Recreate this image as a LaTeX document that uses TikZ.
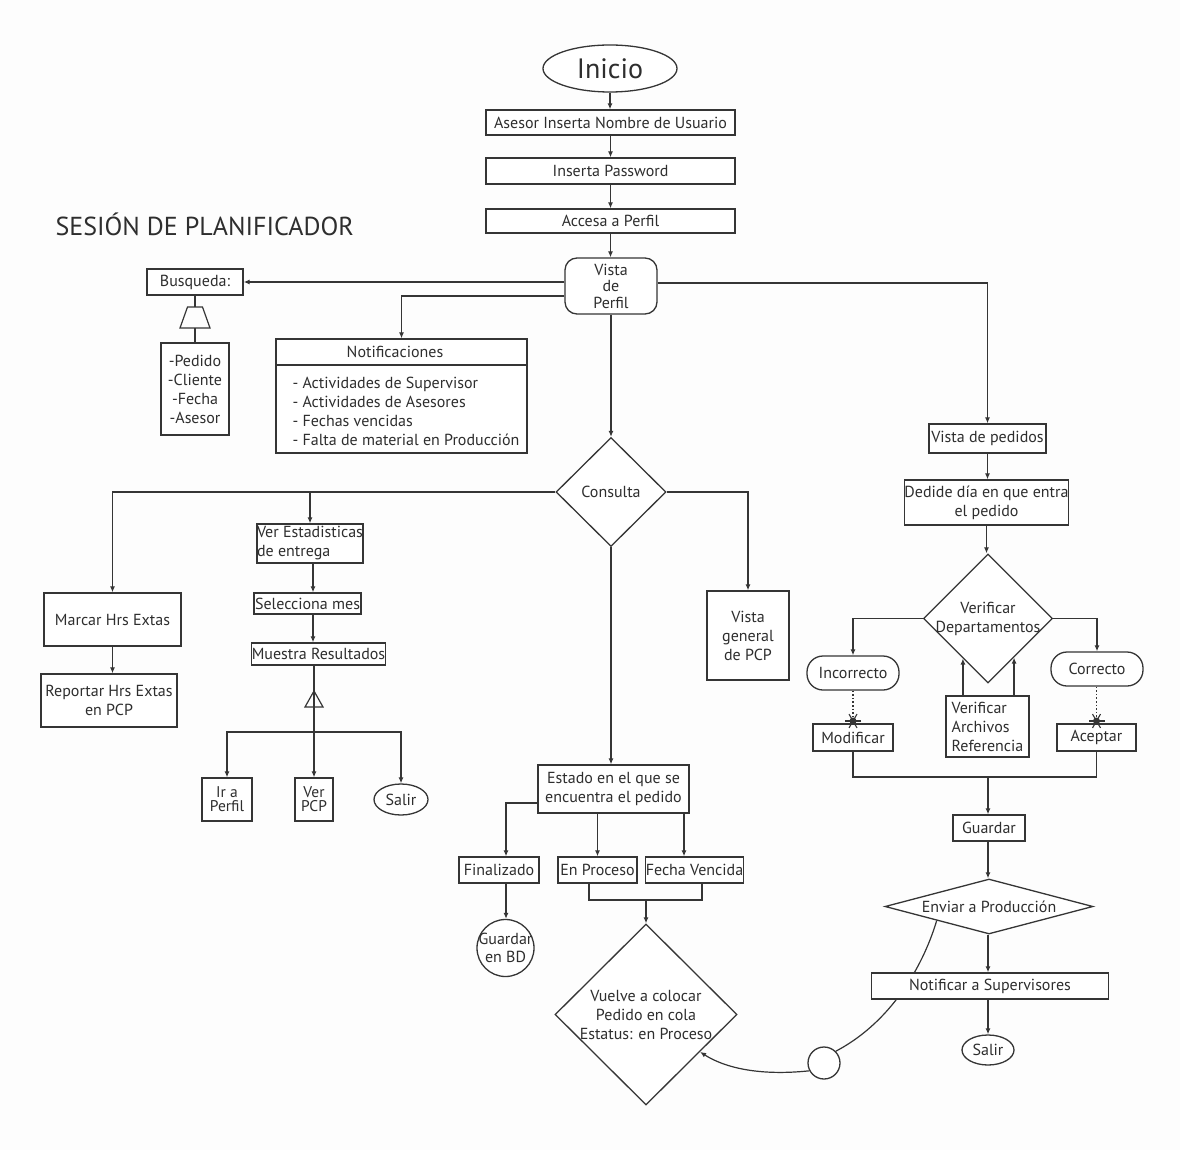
\documentclass[tikz,border=0pt]{standalone}
\usepackage{fontspec}
\setmainfont{PT Sans}
\usetikzlibrary{shapes.geometric,arrows.meta,calc,backgrounds}
\definecolor{ink}{HTML}{353535}
\definecolor{txt}{HTML}{2E2E2E}
\definecolor{paper}{HTML}{FDFDFD}
\newcommand\bodytxt{\fontsize{16}{19}\selectfont}
\tikzset{
  every node/.style={font=\bodytxt, text=txt},
  box/.style={draw=ink, line width=1.3pt, fill=white, inner xsep=1pt, inner ysep=0pt, align=center},
  pill/.style={box, rounded corners=16pt},
  oval/.style={draw=ink, line width=1.3pt, fill=white, ellipse, inner sep=0pt, align=center},
  decision/.style={draw=ink, line width=1.3pt, fill=white, diamond, inner sep=0pt, align=center},
  link/.style={draw=ink, line width=1.2pt, -{Latex[length=6pt,width=5pt]}},
  wire/.style={draw=ink, line width=1.2pt},
  burst/.style={draw=ink, line width=1.1pt},
}
\begin{document}
\begin{tikzpicture}[x=1pt,y=-1pt]
\begin{scope}[on background layer]
  \fill[paper] (0,0) rectangle (1180,1150);
\end{scope}
\useasboundingbox (0,0) rectangle (1180,1150);

% heading
\node[anchor=west, font=\fontsize{26}{30}\selectfont] (title) at (52,224) {SESIÓN DE PLANIFICADOR};

% login sequence
\node[oval, minimum width=134, minimum height=47, font=\fontsize{28}{30}\selectfont] (inicio) at (610,68.5) {Inicio};
\node[box, minimum width=249, minimum height=25] (user) at (610.5,122.5) {Asesor Inserta Nombre de Usuario};
\node[box, minimum width=249, minimum height=26] (pass) at (610.5,171) {Inserta Password};
\node[box, minimum width=249, minimum height=24] (acc) at (610.5,221) {Accesa a Perfil};
\node[box, rounded corners=12pt, minimum width=92, minimum height=56, font=\fontsize{16}{16.5}\selectfont] (vista) at (611,286) {Vista\\de\\Perfil};

% search and notifications
\node[box, minimum width=96, minimum height=26] (busq) at (195,282) {Busqueda:};
\node[box, minimum width=68, minimum height=92] (blist) at (195,389) {-Pedido\\-Cliente\\-Fecha\\-Asesor};
\node[box, minimum width=251, minimum height=114] (notif) at (401.5,396) {};
\node (notifhead) at (395,352) {Notificaciones};
\node[anchor=west, align=left] (notifitems) at (289,411) {- Actividades de Supervisor\\- Actividades de Asesores\\- Fechas vencidas\\- Falta de material en Producción};

% consulta branch
\node[decision, minimum width=110, minimum height=109] (cons) at (611,492) {Consulta};
\node[box, minimum width=82, minimum height=89] (vgen) at (748,635.5) {Vista\\general\\de PCP};
\node[box, minimum width=137, minimum height=53] (marcar) at (112.5,619.5) {Marcar Hrs Extas};
\node[box, minimum width=136, minimum height=53] (report) at (109,700.5) {Reportar Hrs Extas\\en PCP};
\node[box, align=left, minimum width=106, minimum height=39, inner xsep=0pt] (verest) at (310,543.5) {Ver Estadisticas\\de entrega};
\node[box, minimum width=107, minimum height=21, inner xsep=0pt] (selmes) at (307.5,603.5) {Selecciona mes};
\node[box, minimum width=129, minimum height=22, inner xsep=0pt] (muestra) at (318.5,654) {Muestra Resultados};
\node[box, minimum width=50, minimum height=43, font=\fontsize{15.5}{14}\selectfont] (irper) at (227,799.5) {Ir a\\Perfil};
\node[box, minimum width=38, minimum height=43, font=\fontsize{15.5}{14}\selectfont] (verpcp) at (314,799.5) {Ver\\PCP};
\node[oval, minimum width=54, minimum height=31] (salir1) at (401,799.5) {Salir};

% order states
\node[box, minimum width=151, minimum height=48] (estado) at (613.5,789) {Estado en el que se\\encuentra el pedido};
\node[box, minimum width=80, minimum height=26] (final) at (499,870) {Finalizado};
\node[box, minimum width=79, minimum height=26] (enproc) at (597.5,870) {En Proceso};
\node[box, minimum width=95, minimum height=26, inner xsep=0pt] (fechav) at (694.5,870) {Fecha Vencida};
\node[circle, draw=ink, line width=1.3pt, fill=white, minimum size=57, inner sep=-5pt, align=center, font=\fontsize{16}{18}\selectfont] (bd) at (505.5,948) {Guardar\\en BD};
\node[decision, minimum width=182, minimum height=181, inner sep=-10pt] (vuelve) at (646,1014.5) {Vuelve a colocar\\Pedido en cola\\Estatus: en Proceso};

% order view branch
\node[box, minimum width=117, minimum height=29] (vped) at (987.5,438.5) {Vista de pedidos};
\node[box, minimum width=161, minimum height=45, inner xsep=0pt] (dedide) at (986.5,502.5) {Dedide día en que entra\\el pedido};
\node[decision, minimum width=129, minimum height=129, inner sep=-7pt] (verdep) at (988,618.5) {Verificar\\Departamentos};
\node[pill, minimum width=92, minimum height=34] (incor) at (853,673) {Incorrecto};
\node[pill, minimum width=92, minimum height=34] (corr) at (1097,669) {Correcto};
\node[box, minimum width=80, minimum height=27] (modif) at (853,737.5) {Modificar};
\node[box, minimum width=79, minimum height=27] (acept) at (1096.5,737.5) {Aceptar};
\node[box, align=left, minimum width=83, minimum height=61, inner xsep=0pt] (archiv) at (987.5,726.5) {Verificar\\Archivos\\Referencia};
\node[box, minimum width=72, minimum height=26] (guard) at (989,828) {Guardar};
\node[decision, aspect=3.8, minimum width=208, minimum height=55] (enviar) at (989,906.5) {Enviar a Producción};
\node[box, minimum width=237, minimum height=26] (notsup) at (990,986) {Notificar a Supervisores};
\node[oval, minimum width=52, minimum height=30] (salir2) at (988,1050) {Salir};
\node[circle, draw=ink, line width=1.3pt, fill=white, minimum size=32, inner sep=0pt] (loop) at (824,1063) {};

% login connectors
\draw[link] (inicio.south) -- (inicio.south |- user.north);
\draw[link] (user.south) -- (pass.north);
\draw[link] (pass.south) -- (acc.north);
\draw[link] (acc.south) -- (acc.south |- vista.north);
\draw[link] (vista.west |- busq.east) -- (busq.east);
\draw[link] ([yshift=-10pt]vista.west) -| (notif.north);
\draw[link] ([yshift=3pt]vista.east) -| (vped.north);
\draw[link] (vista.south) -- (vista.south |- cons.north);

% search filter symbol
\coordinate (trap) at (195,307);
\draw[wire] (busq.south) -- (trap);
\draw[wire] (trap) ++(-7.5,0) -- ++(15,0) -- ++(7.5,21) -- ++(-30,0) -- cycle;
\draw[wire] ($(trap)+(0,21)$) -- (blist.north);
\draw[wire] (notif.west |- 0,365) -- (notif.east |- 0,365);

% consulta connectors
\draw[link] (cons.west) -| (marcar.north);
\draw[link] (verest.north |- cons.west) -- (verest.north);
\draw[link] (cons.east) -| (vgen.north);
\draw[link] (cons.south) -- (cons.south |- estado.north);
\draw[link] (marcar.south) -- (marcar.south |- report.north);
\coordinate (colB) at (313,0);
\draw[link] (verest.south -| colB) -- (selmes.north -| colB);
\draw[link] (selmes.south -| colB) -- (muestra.north -| colB);
\draw[link] (muestra.south -| verpcp.north) -- (verpcp.north);
\coordinate (tri) at (314,691);
\draw[wire] (tri) -- ++(9,16) -- ++(-18,0) -- cycle;
\coordinate (fork) at (314,732);
\draw[link] (fork) -| (irper.north);
\draw[link] (fork) -| (salir1.north);

% order state connectors
\coordinate (colF) at (506,0);
\coordinate (colV) at (684,0);
\draw[link] ([yshift=-14pt]estado.west) -| (final.north -| colF);
\draw[link] (estado.south -| enproc.north) -- (enproc.north);
\draw[link] (estado.south -| colV) -- (fechav.north -| colV);
\draw[link] (final.south -| colF) -- (bd.north -| colF);
\coordinate (join) at (646,900);
\draw[wire] (enproc.south -| 589,0) |- (join) -| (fechav.south -| 702,0);
\draw[link] (join) -- (vuelve.north);

% order view connectors
\draw[link] (vped.south) -- (vped.south |- dedide.north);
\draw[link] (dedide.south) -- (dedide.south |- verdep.north);
\draw[link] (verdep.west) -| (incor.north);
\draw[link] (verdep.east) -| (corr.north);
\coordinate (burstL) at (853,721);
\coordinate (burstR) at (1096.5,721);
\draw[ink, line width=1.6pt, dotted] (incor.south) -- (burstL);
\draw[ink, line width=1.6pt, dotted] (corr.south -| burstR) -- (burstR);
\foreach \b in {burstL,burstR}{
  \foreach \a in {0,60,120} \draw[burst] (\b) ++(\a:8) -- ++(\a+180:16);
  \fill[ink] (\b) circle (3.5);
}
\coordinate (pL) at ($(verdep.south)!0.385!(verdep.west)$);
\coordinate (pR) at ($(verdep.south)!0.4!(verdep.east)$);
\draw[link] (archiv.north -| pL) -- (pL);
\draw[link] (archiv.north -| pR) -- (pR);
\coordinate (bar) at (988,777);
\draw[wire] (modif.south) |- (bar) -| (acept.south);
\draw[link] (bar) -- (bar |- guard.north);
\draw[link] (guard.south -| bar) -- (enviar.north -| bar);
\draw[link] (enviar.south -| bar) -- (notsup.north -| bar);
\draw[link] (notsup.south -| bar) -- (salir2.north);

% return loop to the queue
\begin{scope}[on background layer]
  \draw[wire] ($(enviar.west)!0.5!(enviar.south)$) .. controls (925,960) and (895,1020) .. (loop.45);
\end{scope}
\draw[link] (loop.208) .. controls (760,1076) and (725,1068) .. ($(vuelve.east)!0.41!(vuelve.south)$);
\end{tikzpicture}
\end{document}
